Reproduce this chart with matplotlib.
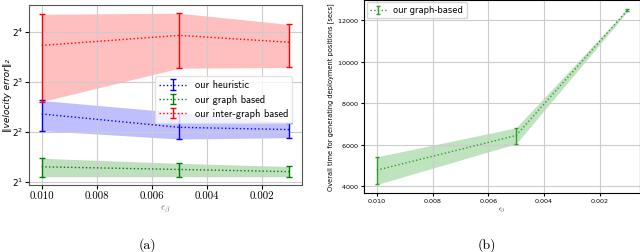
import numpy as np
import matplotlib
matplotlib.use("Agg")
import matplotlib.pyplot as plt

plt.rcParams['mathtext.fontset'] = 'cm'
plt.rcParams['axes.formatter.use_mathtext'] = True

# epsilon_beta values
eps = [0.010, 0.005, 0.001]

# (a) velocity error, mean / lower / upper
heur_mean = [5.14, 4.27, 4.14]
heur_low = [4.08, 3.63, 3.70]
heur_up = [6.2, 5.24, 4.56]

graph_mean = [2.47, 2.38, 2.31]
graph_low = [2.15, 2.15, 2.15]
graph_up = [2.78, 2.59, 2.48]

inter_mean = [13.3, 15.3, 13.9]
inter_low = [6.1, 9.7, 9.8]
inter_up = [20.5, 20.8, 17.8]

# (b) overall time [secs]
time_mean = [4771, 6442, 12482]
time_low = [4080, 6040, 12418]
time_up = [5414, 6811, 12546]

x_ticks = [0.010, 0.008, 0.006, 0.004, 0.002]

fig = plt.figure(figsize=(6.4, 2.52), dpi=100)

# ---------- (a) ----------
ax1 = fig.add_axes([0.0458, 0.266, 0.4256, 0.714])
series = [
    ('our heuristic', heur_mean, heur_low, heur_up, 'blue'),
    ('our graph based', graph_mean, graph_low, graph_up, 'green'),
    ('our inter-graph based', inter_mean, inter_low, inter_up, 'red'),
]
for label, m, lo, up, c in series:
    m = np.array(m); lo = np.array(lo); up = np.array(up)
    ax1.fill_between(eps, lo, up, color=c, alpha=0.25, linewidth=0)
    ax1.errorbar(eps, m, yerr=[m - lo, up - m], color=c, linestyle=':',
                 linewidth=1.0, capsize=2, elinewidth=1.0, label=label)
ax1.set_yscale('log', base=2)
ax1.set_yticks([2, 4, 8, 16])
ax1.invert_xaxis()
ax1.set_xticks(x_ticks)
ax1.set_xticklabels(['%.3f' % t for t in x_ticks], family='cmr10', fontsize=7.8)
ax1.tick_params(axis='x', pad=2, length=3)
ax1.tick_params(axis='y', pad=1.5, length=3)
for t in ax1.get_yticklabels():
    t.set_fontsize(6.5)
ax1.grid(True, color='#cccccc', linewidth=0.8)
ax1.set_xlabel(r'$\epsilon_\beta$', fontsize=7.5, color='#666666', labelpad=1)
ax1.set_ylabel('\u2016velocity error\u2016\u2082', fontsize=6.5,
               family='DejaVu Sans', style='italic')
ax1.yaxis.set_label_coords(-0.064, 0.5)
for s in ax1.spines.values():
    s.set_color('#555555')
leg = ax1.legend(loc='center right', bbox_to_anchor=(0.985, 0.475),
                 prop={'family': 'cmss10', 'size': 7.5}, framealpha=0.8,
                 handlelength=2.6, labelspacing=0.4, borderpad=0.4)
leg.get_frame().set_edgecolor('#dddddd')

# ---------- (b) ----------
ax2 = fig.add_axes([0.5692, 0.233, 0.4308, 0.767])
tm = np.array(time_mean); tl = np.array(time_low); tu = np.array(time_up)
ax2.fill_between(eps, tl, tu, color='#2ca02c', alpha=0.3, linewidth=0)
ax2.errorbar(eps, tm, yerr=[tm - tl, tu - tm], color='#2ca02c', linestyle=':',
             linewidth=1.0, capsize=1.5, elinewidth=1.0, label='our graph-based')
ax2.invert_xaxis()
ax2.set_xticks(x_ticks)
ax2.set_xticklabels(['%.3f' % t for t in x_ticks])
ax2.set_yticks([4000, 6000, 8000, 10000, 12000])
ax2.tick_params(labelsize=4.6, length=2, pad=2)
ax2.grid(True, color='#cccccc', linewidth=0.8)
ax2.set_xlabel(r'$\epsilon_\beta$', fontsize=5, labelpad=1)
ax2.set_ylabel('Overall time for generating deployment positions [secs]',
               fontsize=4.8, labelpad=2)
ax2.legend(loc='upper left', fontsize=6, framealpha=0.8, handlelength=2.0,
           borderaxespad=0.3)

fig.text(0.231, 0.012, '(a)', family='cmr10', fontsize=10, ha='center')
fig.text(0.76, 0.012, '(b)', family='cmr10', fontsize=10, ha='center')

fig.savefig('out.png', dpi=100)
